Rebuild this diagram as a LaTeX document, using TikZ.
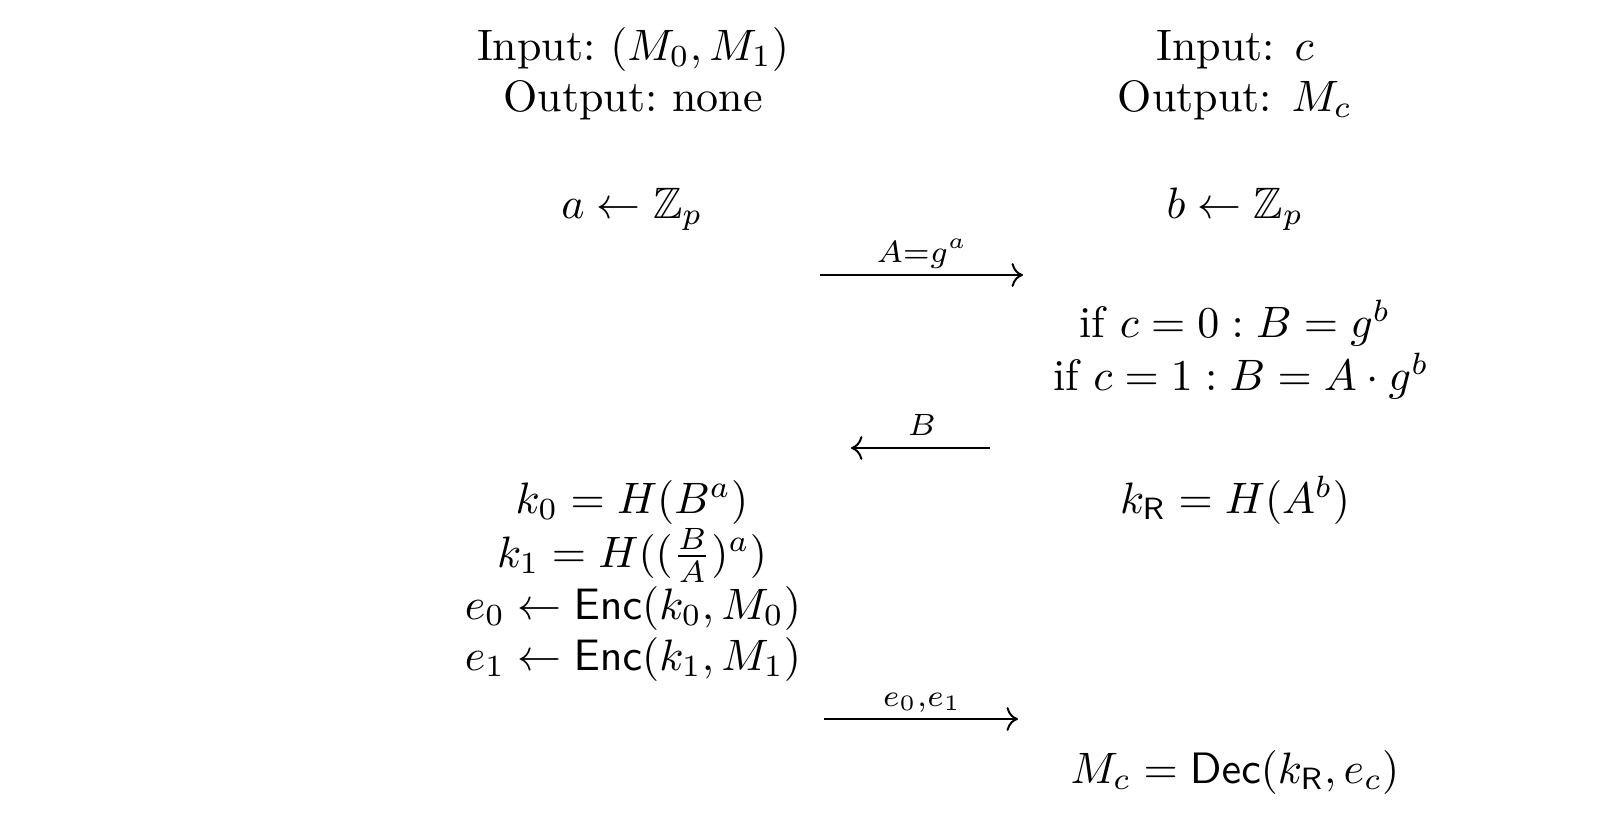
\documentclass[tikz,border=0pt]{standalone}
\usepackage{amsmath,amssymb}
\usetikzlibrary{arrows.meta}
\begin{document}
\begin{tikzpicture}[x=0.2273pt,y=-0.2273pt,
  txt/.style={anchor=base,inner sep=0pt},
  lbl/.style={anchor=base,inner sep=0pt},
  msg/.style={line width=0.45pt,-{Computer Modern Rightarrow[length=2.6pt,width=5.4pt]}}]
\useasboundingbox (0,0) rectangle (1622,831);
% left column
\node[txt] (inL)  at (633,60)  {Input:~$(M_0,M_1)$};
\node[txt] (outL) at (633,111) {Output:~none};
\node[txt] (a)    at (632,218) {$a \leftarrow \mathbb{Z}_p$};
\node[txt] (k0)   at (632,513) {$k_0 = H(B^a)$};
\node[txt] (k1)   at (632,567) {$k_1 = H((\frac{B}{A})^a)$};
\node[txt] (e0)   at (633,619) {$e_0 \leftarrow \mathsf{Enc}(k_0, M_0)$};
\node[txt] (e1)   at (633,670) {$e_1 \leftarrow \mathsf{Enc}(k_1, M_1)$};
% right column
\node[txt] (inR)  at (1235,60)  {Input: $c$};
\node[txt] (outR) at (1235,111) {Output: $M_c$};
\node[txt] (b)    at (1235,218) {$b \leftarrow \mathbb{Z}_p$};
\node[txt] (c0)   at (1235,337) {if $c = 0 : B = g^b$};
\node[txt] (c1)   at (1241,390) {if $c = 1 : B = A \cdot g^b$};
\node[txt] (kR)   at (1235,513) {$k_{\mathsf{R}} = H(A^b)$};
\node[txt] (Mc)   at (1235,783) {$M_c = \mathsf{Dec}(k_{\mathsf{R}}, e_c)$};
% messages
\coordinate (m1s) at (820,275);  \coordinate (m1e) at (1023,275);
\coordinate (m2s) at (990,448);  \coordinate (m2e) at (851,448);
\coordinate (m3s) at (824,719);  \coordinate (m3e) at (1018,719);
\draw[msg] (m1s) -- (m1e);
\draw[msg] (m2s) -- (m2e);
\draw[msg] (m3s) -- (m3e);
\node[lbl] (l1) at (922,262) {$\scriptstyle A=g^a$};
\node[lbl] (l2) at (922,435) {$\scriptstyle B$};
\node[lbl] (l3) at (922,706) {$\scriptstyle e_0,e_1$};
\end{tikzpicture}
\end{document}
